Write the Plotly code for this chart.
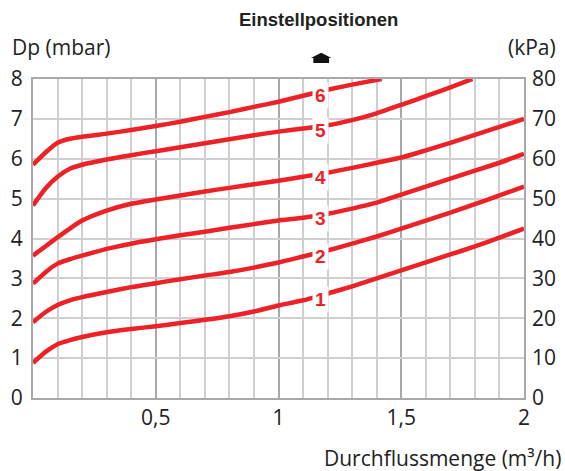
import numpy as np
import plotly.graph_objects as go

# Flow (m3/h)
x_flow = [0, 0.05, 0.1, 0.15, 0.2, 0.3, 0.4, 0.5, 0.6, 0.7, 0.8, 0.9, 1.0,
          1.1, 1.2, 1.3, 1.4, 1.5, 1.6, 1.7, 1.8, 1.9, 2.0]

curve1 = [0.88, 1.15, 1.35, 1.45, 1.53, 1.65, 1.73, 1.80, 1.88, 1.96, 2.05, 2.17, 2.32,
          2.45, 2.62, 2.80, 3.00, 3.20, 3.40, 3.60, 3.80, 4.02, 4.25]
curve2 = [1.90, 2.15, 2.33, 2.45, 2.53, 2.66, 2.78, 2.88, 2.98, 3.07, 3.16, 3.27, 3.40,
          3.55, 3.70, 3.87, 4.05, 4.25, 4.45, 4.65, 4.86, 5.08, 5.30]
curve3 = [2.87, 3.15, 3.37, 3.48, 3.57, 3.74, 3.87, 3.98, 4.08, 4.17, 4.27, 4.36, 4.45,
          4.52, 4.62, 4.75, 4.90, 5.10, 5.30, 5.50, 5.70, 5.90, 6.12]
curve4 = [3.57, 3.80, 4.03, 4.25, 4.45, 4.70, 4.87, 4.98, 5.08, 5.18, 5.27, 5.36, 5.45,
          5.55, 5.65, 5.77, 5.90, 6.03, 6.21, 6.40, 6.60, 6.80, 7.00]
x5 = [0, 0.05, 0.1, 0.15, 0.2, 0.3, 0.4, 0.5, 0.6, 0.7, 0.8, 0.9, 1.0,
      1.1, 1.2, 1.3, 1.4, 1.5, 1.6, 1.7, 1.79]
curve5 = [4.83, 5.25, 5.55, 5.75, 5.85, 5.98, 6.09, 6.19, 6.29, 6.39, 6.49, 6.59, 6.68,
          6.76, 6.84, 6.97, 7.14, 7.35, 7.57, 7.79, 8.00]
x6 = [0, 0.05, 0.1, 0.15, 0.2, 0.3, 0.4, 0.5, 0.6, 0.7, 0.8, 0.9, 1.0,
      1.1, 1.2, 1.3, 1.42]
curve6 = [5.85, 6.15, 6.40, 6.50, 6.55, 6.63, 6.72, 6.82, 6.93, 7.05, 7.17, 7.30, 7.43,
          7.58, 7.73, 7.86, 8.00]

series = [("1", x_flow, curve1), ("2", x_flow, curve2), ("3", x_flow, curve3),
          ("4", x_flow, curve4), ("5", x5, curve5), ("6", x6, curve6)]

mbar_ticks = [0, 1, 2, 3, 4, 5, 6, 7, 8]
kpa_ticks = [0, 10, 20, 30, 40, 50, 60, 70, 80]
flow_ticks = [0.5, 1, 1.5, 2]
label_x = 1.17

RED = "#ec2227"
FONT = "Open Sans"
TXT = "#222222"
FS = 21
GRID_MINOR = "#cfcfd1"
GRID_MAJOR = "#a9a9ad"

fig = go.Figure()
for name, xs, ys in series:
    fig.add_trace(go.Scatter(x=xs, y=ys, mode="lines",
                             line=dict(color=RED, width=4.5, shape="spline", smoothing=0.6),
                             showlegend=False, hoverinfo="skip"))

# invisible trace for the kPa axis
fig.add_trace(go.Scatter(x=[0, 2], y=[kpa_ticks[0], kpa_ticks[-1]], yaxis="y2", mode="lines",
                         line=dict(width=0), opacity=0, showlegend=False, hoverinfo="skip"))

for name, xs, ys in series:
    yv = float(np.interp(label_x, xs, ys)) - 0.1
    fig.add_annotation(x=label_x, y=yv, text="<b>%s</b>" % name, showarrow=False,
                       font=dict(family="Liberation Sans", size=19, color=RED),
                       bgcolor="white", borderpad=2)

fig.add_annotation(xref="paper", yref="paper", x=0.582, y=1.188, xanchor="center", yanchor="middle",
                   text="<b>Einstellpositionen</b>",
                   showarrow=False, font=dict(family="Liberation Sans", size=18.5, color=TXT))
fig.add_annotation(xref="paper", yref="paper", x=-0.047, y=1.10, xanchor="left", yanchor="middle",
                   text="Dp (mbar)", showarrow=False, font=dict(family=FONT, size=FS, color=TXT))
fig.add_annotation(xref="paper", yref="paper", x=1.069, y=1.10, xanchor="right", yanchor="middle",
                   text="(kPa)", showarrow=False, font=dict(family=FONT, size=FS, color=TXT))
fig.add_annotation(xref="paper", yref="paper", x=1.079, y=-0.188, xanchor="right", yanchor="middle",
                   text="Durchflussmenge (m³/h)",
                   showarrow=False, font=dict(family=FONT, size=FS, color=TXT))

# small arrow (house shape) above the label column
ax, aw, tw = 0.587, 0.016, 0.021
yb, ym, yt = 1.050, 1.066, 1.082
fig.add_shape(type="path", xref="paper", yref="paper",
              path=f"M {ax-aw} {yb} L {ax+aw} {yb} L {ax+aw} {ym} L {ax+tw} {ym} L {ax} {yt} L {ax-tw} {ym} L {ax-aw} {ym} Z",
              fillcolor="#111111", line=dict(width=0))

fig.update_layout(
    width=565, height=471,
    margin=dict(l=33, r=41, t=79, b=73, autoexpand=False),
    paper_bgcolor="white", plot_bgcolor="white",
    separators=",.",
    font=dict(family=FONT, size=FS, color=TXT),
    xaxis=dict(range=[0, 2], tickvals=flow_ticks, showgrid=True, gridcolor=GRID_MAJOR, gridwidth=2,
               minor=dict(dtick=0.1, showgrid=True, gridcolor=GRID_MINOR, gridwidth=1.5),
               showline=True, linecolor=GRID_MAJOR, linewidth=2, mirror=True, zeroline=False,
               ticks="", ticklabelstandoff=0, tickfont=dict(family=FONT, size=FS, color=TXT),
               automargin=False),
    yaxis=dict(range=[0, 8], tickvals=mbar_ticks, showgrid=True, gridcolor=GRID_MINOR, gridwidth=1.5,
               showline=True, linecolor=GRID_MAJOR, linewidth=2, mirror=True, zeroline=False,
               ticks="", ticklabelstandoff=4, tickfont=dict(family=FONT, size=FS, color=TXT),
               automargin=False),
    yaxis2=dict(range=[0, 80], tickvals=kpa_ticks, overlaying="y", side="right", showgrid=False,
                zeroline=False, showline=False, ticks="", ticklabelstandoff=7,
                tickfont=dict(family=FONT, size=FS, color=TXT), automargin=False),
)

fig.write_html("out.html", config={"displayModeBar": False},
               post_script="document.body.style.margin='0';document.body.style.padding='0';")
